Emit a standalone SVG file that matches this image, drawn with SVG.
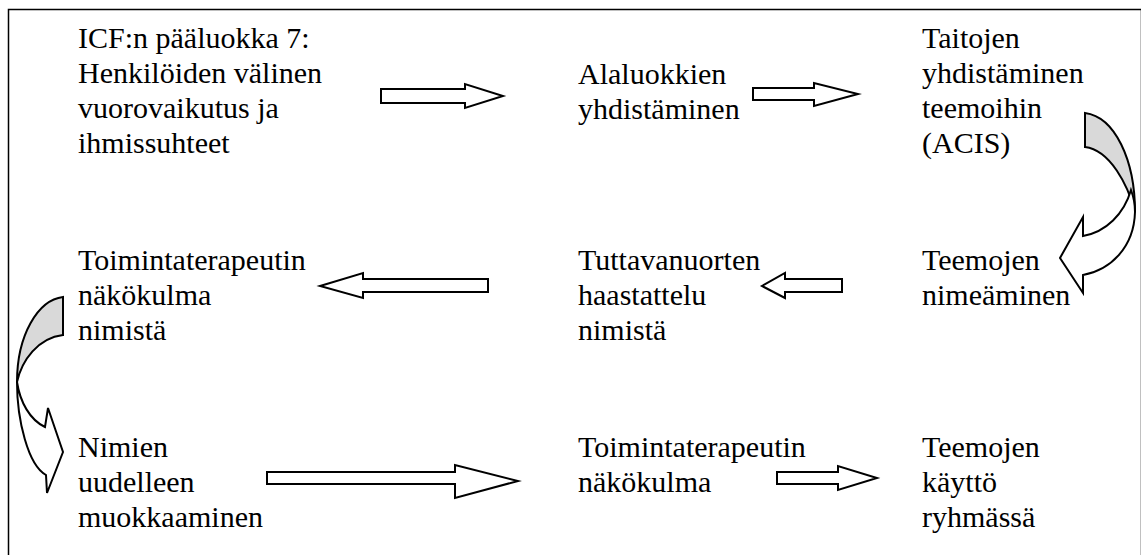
<svg xmlns="http://www.w3.org/2000/svg" width="1141" height="555" viewBox="0 0 1141 555" font-family="Times New Roman" style="font-family:'Times New Roman',serif">
<defs>
<path id="curvR" d="M1131,190 C1134,198 1135,205 1135,212 C1134,248 1110,270 1083,275 L1083,293 L1060,258 L1083,217 L1083,236 C1106,232 1124,214 1131,190 Z"/>
</defs>
<rect x="8.5" y="9.5" width="1133" height="560" fill="#fff" stroke="#000" stroke-width="1.5"/>
<g id="n1"><text x="78" y="48" font-family="Times New Roman" style="font-family:'Times New Roman',serif" font-size="30">ICF:n pääluokka 7:</text><text x="78" y="83" font-family="Times New Roman" style="font-family:'Times New Roman',serif" font-size="30">Henkilöiden välinen</text><text x="78" y="118" font-family="Times New Roman" style="font-family:'Times New Roman',serif" font-size="30">vuorovaikutus ja</text><text x="78" y="153" font-family="Times New Roman" style="font-family:'Times New Roman',serif" font-size="30">ihmissuhteet</text></g>
<g id="n2"><text x="578" y="84" font-family="Times New Roman" style="font-family:'Times New Roman',serif" font-size="30">Alaluokkien</text><text x="578" y="119" font-family="Times New Roman" style="font-family:'Times New Roman',serif" font-size="30">yhdistäminen</text></g>
<g id="n3"><text x="922" y="48" font-family="Times New Roman" style="font-family:'Times New Roman',serif" font-size="30">Taitojen</text><text x="922" y="83" font-family="Times New Roman" style="font-family:'Times New Roman',serif" font-size="30">yhdistäminen</text><text x="922" y="118" font-family="Times New Roman" style="font-family:'Times New Roman',serif" font-size="30">teemoihin</text><text x="922" y="153" font-family="Times New Roman" style="font-family:'Times New Roman',serif" font-size="30">(ACIS)</text></g>
<g id="n4"><text x="922" y="270" font-family="Times New Roman" style="font-family:'Times New Roman',serif" font-size="30">Teemojen</text><text x="922" y="305" font-family="Times New Roman" style="font-family:'Times New Roman',serif" font-size="30">nimeäminen</text></g>
<g id="n5"><text x="578" y="270" font-family="Times New Roman" style="font-family:'Times New Roman',serif" font-size="30">Tuttavanuorten</text><text x="578" y="305" font-family="Times New Roman" style="font-family:'Times New Roman',serif" font-size="30">haastattelu</text><text x="578" y="340" font-family="Times New Roman" style="font-family:'Times New Roman',serif" font-size="30">nimistä</text></g>
<g id="n6"><text x="78" y="270" font-family="Times New Roman" style="font-family:'Times New Roman',serif" font-size="30">Toimintaterapeutin</text><text x="78" y="305" font-family="Times New Roman" style="font-family:'Times New Roman',serif" font-size="30">näkökulma</text><text x="78" y="340" font-family="Times New Roman" style="font-family:'Times New Roman',serif" font-size="30">nimistä</text></g>
<g id="n7"><text x="78" y="457" font-family="Times New Roman" style="font-family:'Times New Roman',serif" font-size="30">Nimien</text><text x="78" y="492" font-family="Times New Roman" style="font-family:'Times New Roman',serif" font-size="30">uudelleen</text><text x="78" y="527" font-family="Times New Roman" style="font-family:'Times New Roman',serif" font-size="30">muokkaaminen</text></g>
<g id="n8"><text x="578" y="457" font-family="Times New Roman" style="font-family:'Times New Roman',serif" font-size="30">Toimintaterapeutin</text><text x="578" y="492" font-family="Times New Roman" style="font-family:'Times New Roman',serif" font-size="30">näkökulma</text></g>
<g id="n9"><text x="922" y="457" font-family="Times New Roman" style="font-family:'Times New Roman',serif" font-size="30">Teemojen</text><text x="922" y="492" font-family="Times New Roman" style="font-family:'Times New Roman',serif" font-size="30">käyttö</text><text x="922" y="527" font-family="Times New Roman" style="font-family:'Times New Roman',serif" font-size="30">ryhmässä</text></g>
<g id="connectors" fill="#fff" stroke="#000" stroke-width="2">
<path d="M381,89 H465 V84 L503,96 L465,108 V103 H381 Z"/>
<path d="M753,88 H814 V83 L858,94 L814,106 V100 H753 Z"/>
<path d="M488,279 H363 V273 L320,286 L363,298 V292 H488 Z"/>
<path d="M842,279 H785 V273 L762,286 L785,298 V292 H842 Z"/>
<path d="M267,472 H455 V465 L518,481 L455,498 V484 H267 Z"/>
<path d="M777,472 H838 V466 L877,478 L838,490 V484 H777 Z"/>
<path fill="#d9d9d9" d="M1085,113 C1115,117 1135,160 1135,212 C1128,185 1110,150 1085,147 Z"/>
<use href="#curvR"/>
<path fill="#d9d9d9" d="M63,297 C38,300 17,335 17,382 C22,360 38,338 63,335 Z"/>
<path d="M17,382 C17,420 28,465 46,475 L47,493 L63,452 L48,408 L45,427 C30,420 20,402 17,382 Z"/>
</g>
</svg>
